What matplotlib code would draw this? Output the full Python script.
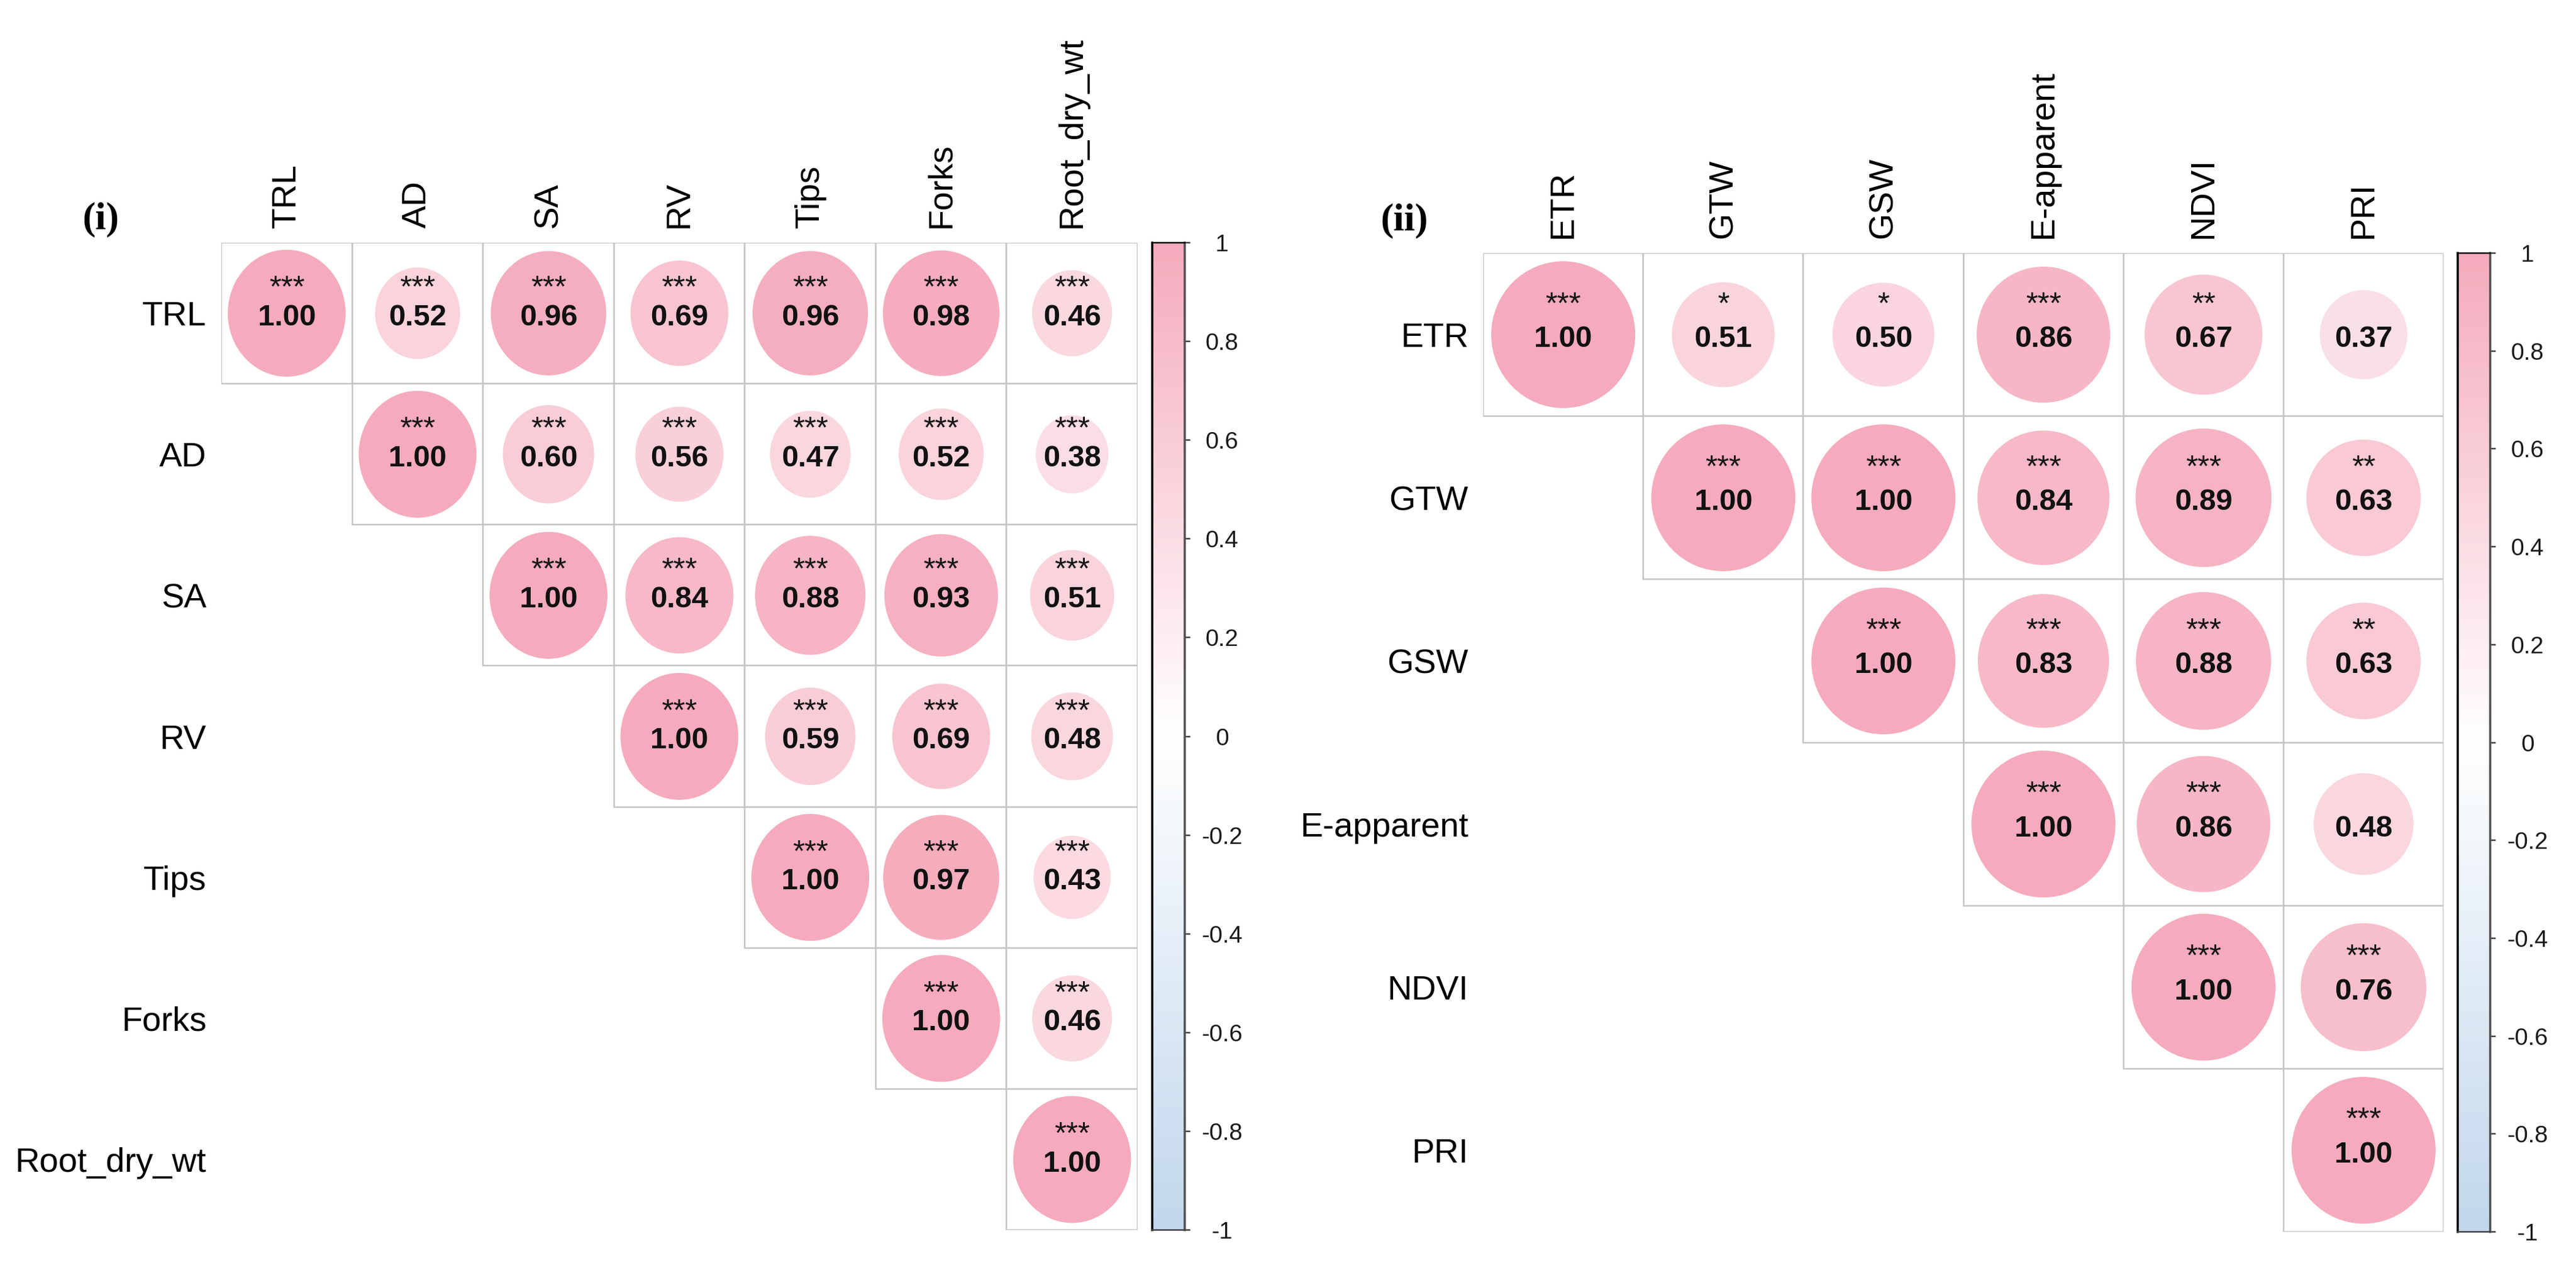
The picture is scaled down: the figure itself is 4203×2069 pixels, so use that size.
import numpy as np
import matplotlib
matplotlib.use("Agg")
import matplotlib.pyplot as plt
from matplotlib.patches import Ellipse, Rectangle
from matplotlib.colors import LinearSegmentedColormap

# ---------------- data ----------------
vars_i = ["TRL", "AD", "SA", "RV", "Tips", "Forks", "Root_dry_wt"]
corr_i = [
    [1.00, 0.52, 0.96, 0.69, 0.96, 0.98, 0.46],
    [1.00, 0.60, 0.56, 0.47, 0.52, 0.38],
    [1.00, 0.84, 0.88, 0.93, 0.51],
    [1.00, 0.59, 0.69, 0.48],
    [1.00, 0.97, 0.43],
    [1.00, 0.46],
    [1.00],
]
sig_i = [
    ["***"] * 7,
    ["***"] * 6,
    ["***"] * 5,
    ["***"] * 4,
    ["***"] * 3,
    ["***"] * 2,
    ["***"],
]

vars_ii = ["ETR", "GTW", "GSW", "E-apparent", "NDVI", "PRI"]
corr_ii = [
    [1.00, 0.51, 0.50, 0.86, 0.67, 0.37],
    [1.00, 1.00, 0.84, 0.89, 0.63],
    [1.00, 0.83, 0.88, 0.63],
    [1.00, 0.86, 0.48],
    [1.00, 0.76],
    [1.00],
]
sig_ii = [
    ["***", "*", "*", "***", "**", ""],
    ["***", "***", "***", "***", "**"],
    ["***", "***", "***", "**"],
    ["***", "***", ""],
    ["***", "***"],
    ["***"],
]

cbar_ticks = [1, 0.8, 0.6, 0.4, 0.2, 0, -0.2, -0.4, -0.6, -0.8, -1]
cbar_labels = ["1", "0.8", "0.6", "0.4", "0.2", "0", "-0.2", "-0.4", "-0.6", "-0.8", "-1"]

panel_tags = ["(i)", "(ii)"]

# ---------------- style ----------------
W, H = 4203, 2069
DPI = 100
PX = 72.0 / DPI  # points per pixel

cmap = LinearSegmentedColormap.from_list(
    "pinkblue", ["#C2D7EC", "#FFFFFF", "#F5ABBD"], N=200)

plt.rcParams["font.family"] = ["Liberation Sans", "DejaVu Sans"]
plt.rcParams["axes.unicode_minus"] = False

fig = plt.figure(figsize=(W / DPI, H / DPI), dpi=DPI)
fig.patch.set_facecolor("white")


def add_px_axes(left, top, right, bottom):
    return fig.add_axes([left / W, 1 - bottom / H, (right - left) / W, (bottom - top) / H])


LABEL_FS = 40
NUM_FS = 35
STAR_FS = 36
TICK_FS = 28
GRID_COL = "#C4C4C4"


def draw_panel(ax, names, corr, sig):
    n = len(names)
    ax.set_xlim(0, n)
    ax.set_ylim(n, 0)
    for s in ax.spines.values():
        s.set_visible(False)
    ax.set_facecolor("none")
    for i, row in enumerate(corr):
        for k, r in enumerate(row):
            j = i + k
            ax.add_patch(Rectangle((j, i), 1, 1, facecolor="white",
                                   edgecolor=GRID_COL, lw=2.5 * PX, zorder=1))
    for i, row in enumerate(corr):
        for k, r in enumerate(row):
            j = i + k
            d = 0.9 * np.sqrt(abs(r))
            ax.add_patch(Ellipse((j + 0.5, i + 0.5), d, d,
                                 facecolor=cmap((r + 1) / 2), edgecolor="none", zorder=2))
            ax.annotate(f"{r:.2f}", xy=(j + 0.5, i + 0.51), xytext=(0, -0.358 * NUM_FS),
                        textcoords="offset points", ha="center", va="baseline",
                        fontsize=NUM_FS, fontweight="bold", color="#111111", zorder=3)
            st = sig[i][k]
            if st:
                ax.annotate(st, xy=(j + 0.5, i + 0.5 - 0.24), xytext=(0, -0.575 * STAR_FS),
                            textcoords="offset points", ha="center", va="baseline",
                            fontsize=STAR_FS, color="#151515", zorder=3)
    ax.xaxis.tick_top()
    ax.set_xticks(np.arange(n) + 0.5)
    ax.set_xticklabels(names, rotation=90, fontsize=LABEL_FS, color="black")
    ax.set_yticks(np.arange(n) + 0.5)
    ax.set_yticklabels(names, fontsize=LABEL_FS, color="black")
    ax.tick_params(axis="x", length=0, pad=24 * PX)
    ax.tick_params(axis="y", length=0, pad=24 * PX)


def draw_cbar(cax):
    grad = np.linspace(-1, 1, 400)[:, None]
    cax.imshow(grad, extent=[0, 1, -1, 1], aspect="auto", origin="lower",
               cmap=cmap, vmin=-1, vmax=1)
    cax.set_xlim(0, 1)
    cax.set_ylim(-1, 1)
    cax.set_xticks([])
    cax.yaxis.tick_right()
    cax.set_yticks(cbar_ticks)
    cax.set_yticklabels(cbar_labels, fontsize=TICK_FS, color="#1a1a1a")
    for lab in cax.get_yticklabels():
        lab.set_horizontalalignment("center")
    cax.tick_params(axis="y", length=9 * PX, width=2.5 * PX, color="#404040",
                    pad=52 * PX)
    cax.spines["left"].set_color("black")
    cax.spines["left"].set_linewidth(3.5 * PX)
    cax.spines["right"].set_color("#505050")
    cax.spines["right"].set_linewidth(3.5 * PX)
    cax.spines["top"].set_color("black")
    cax.spines["top"].set_linewidth(2.5 * PX)
    cax.spines["bottom"].set_color("#404040")
    cax.spines["bottom"].set_linewidth(2.5 * PX)


# Panel (i)
ax1 = add_px_axes(361, 396, 1856, 2007)
draw_panel(ax1, vars_i, corr_i, sig_i)
cax1 = add_px_axes(1880, 396, 1933, 2007)
draw_cbar(cax1)

# Panel (ii)
ax2 = add_px_axes(2420, 413, 3987, 2010)
draw_panel(ax2, vars_ii, corr_ii, sig_ii)
cax2 = add_px_axes(4010, 413, 4063, 2010)
draw_cbar(cax2)

fig.text(164 / W, 1 - 358 / H, panel_tags[0], fontsize=46, fontweight="bold",
         family=["Liberation Serif", "DejaVu Serif"], ha="center", va="center")
fig.text(2291 / W, 1 - 360 / H, panel_tags[1], fontsize=46, fontweight="bold",
         family=["Liberation Serif", "DejaVu Serif"], ha="center", va="center")

fig.savefig("out.png", dpi=DPI, facecolor="white")
